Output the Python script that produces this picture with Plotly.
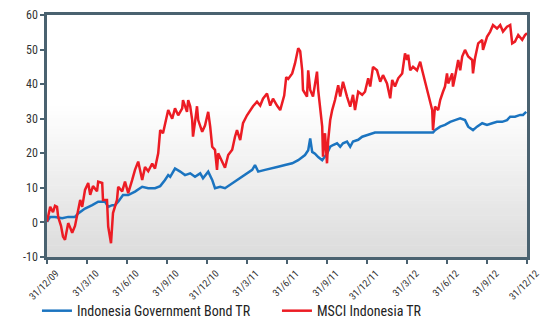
import plotly.graph_objects as go

# x positions in quarters since 31/12/09
tick_labels = ["31/12/09", "31/3/10", "31/6/10", "31/9/10", "31/12/10", "31/3/11", "31/6/11",
               "31/9/11", "31/12/11", "31/3/12", "31/6/12", "31/9/12", "31/12/12"]

bond_x = [0.00, 0.08, 0.20, 0.38, 0.53, 0.70, 0.78, 0.95, 1.13, 1.28, 1.45, 1.53, 1.63, 1.70, 1.78,
          1.90, 2.03, 2.20, 2.38, 2.53, 2.70, 2.83, 2.95, 3.03, 3.08, 3.20, 3.33, 3.45, 3.58, 3.70,
          3.83, 3.90, 4.03, 4.13, 4.20, 4.33, 4.45, 4.63, 4.78, 4.95, 5.13, 5.20, 5.28, 5.45, 5.63,
          5.78, 5.95, 6.13, 6.28, 6.45, 6.53, 6.58, 6.63, 6.70, 6.78, 6.88, 7.00, 7.08, 7.15, 7.25,
          7.33, 7.40, 7.50, 7.58, 7.65, 7.78, 7.88, 8.00, 8.13, 8.20, 9.00, 9.65, 9.70, 9.83, 9.95,
          10.08, 10.20, 10.33, 10.45, 10.53, 10.65, 10.75, 10.88, 11.00, 11.13, 11.25, 11.38, 11.50,
          11.58, 11.70, 11.83, 11.90, 11.98]
bond_y = [0.2, 1.6, 1.6, 1.2, 1.6, 1.6, 2.6, 4.0, 5.0, 6.0, 6.0, 4.5, 5.0, 5.0, 6.0,
          7.9, 7.9, 8.9, 10.3, 9.9, 9.9, 10.5, 12.3, 13.7, 13.2, 15.6, 14.7, 13.7, 14.2, 13.2,
          14.2, 12.8, 14.7, 12.3, 9.9, 10.3, 9.9, 11.3, 12.3, 13.7, 15.2, 16.6, 14.7, 15.2, 15.6,
          16.1, 16.6, 17.1, 18.0, 19.5, 20.9, 24.3, 20.4, 19.9, 18.9, 18.0, 19.9, 21.9, 22.4, 22.9,
          21.9, 22.9, 23.4, 21.9, 23.4, 23.9, 24.8, 25.3, 25.8, 26.0, 26.0, 26.0, 26.7, 27.7, 28.2,
          29.1, 29.6, 30.1, 29.6, 27.7, 26.7, 27.7, 28.7, 28.2, 28.7, 29.1, 29.1, 29.6,
          30.6, 30.6, 31.1, 31.1, 32.0]

msci_x = [0.00, 0.08, 0.15, 0.20, 0.25, 0.28, 0.35, 0.40, 0.45, 0.48, 0.53, 0.58, 0.63, 0.70, 0.75,
          0.83, 0.88, 0.95, 1.03, 1.08, 1.15, 1.25, 1.28, 1.38, 1.40, 1.50, 1.53, 1.58, 1.60, 1.65,
          1.70, 1.75, 1.78, 1.88, 1.95, 2.03, 2.13, 2.20, 2.28, 2.38, 2.45, 2.53, 2.63, 2.70, 2.78,
          2.83, 2.90, 2.95, 3.03, 3.13, 3.20, 3.28, 3.38, 3.40, 3.50, 3.53, 3.58, 3.63, 3.65, 3.70,
          3.75, 3.78, 3.88, 3.95, 4.03, 4.08, 4.13, 4.20, 4.25, 4.28, 4.38, 4.45, 4.53, 4.63, 4.70,
          4.75, 4.83, 4.90, 5.00, 5.08, 5.15, 5.25, 5.33, 5.40, 5.50, 5.58, 5.65, 5.75, 5.83, 5.93,
          5.98, 6.03, 6.13, 6.20, 6.28, 6.33, 6.38, 6.40, 6.50, 6.53, 6.58, 6.65, 6.75, 6.78, 6.83,
          6.88, 6.90, 6.95, 7.00, 7.03, 7.08, 7.13, 7.20, 7.28, 7.33, 7.40, 7.50, 7.58, 7.65, 7.70,
          7.78, 7.88, 7.95, 8.03, 8.08, 8.15, 8.25, 8.33, 8.40, 8.50, 8.58, 8.63, 8.70, 8.78, 8.88,
          8.95, 9.00, 9.03, 9.08, 9.15, 9.25, 9.33, 9.38, 9.45, 9.53, 9.58, 9.63, 9.65, 9.70, 9.78,
          9.83, 9.90, 9.95, 10.00, 10.03, 10.13, 10.15, 10.20, 10.28, 10.33, 10.38, 10.45, 10.53,
          10.63, 10.65, 10.70, 10.78, 10.88, 10.90, 11.00, 11.08, 11.15, 11.25, 11.33, 11.40, 11.50,
          11.58, 11.63, 11.70, 11.78, 11.88, 11.95, 12.00]
msci_y = [0.2, 4.5, 3.0, 4.8, 4.5, 1.6, -1.0, -4.1, -5.0, -3.0, -0.2, -1.5, -3.0, -1.0, 1.6,
          6.5, 4.5, 9.4, 11.4, 8.0, 10.5, 9.0, 11.8, 11.4, 6.5, 6.5, -1.2, -4.0, -6.0, 2.7,
          4.5, 6.5, 10.3, 9.0, 11.8, 8.5, 12.3, 15.2, 17.6, 12.3, 16.0, 14.8, 17.0, 15.6, 20.0,
          26.7, 25.8, 28.7, 32.5, 30.0, 33.0, 31.0, 33.0, 35.4, 32.0, 35.4, 33.6, 29.6, 24.8, 29.0,
          33.6, 29.6, 26.2, 28.0, 32.0, 27.7, 21.9, 21.0, 15.2, 20.0, 17.2, 15.8, 19.5, 21.0, 24.8,
          26.7, 23.8, 28.7, 31.0, 32.5, 33.6, 34.9, 33.8, 35.8, 37.3, 33.8, 35.8, 33.8, 32.5, 36.7,
          42.0, 41.5, 43.1, 46.0, 50.4, 49.5, 44.0, 38.3, 36.4, 44.0, 38.3, 36.4, 43.6, 38.3, 32.5,
          27.7, 19.0, 25.8, 17.1, 23.8, 29.6, 32.5, 35.4, 39.7, 36.4, 40.7, 36.4, 33.5, 36.9, 32.5,
          37.8, 36.9, 37.8, 41.7, 39.3, 45.0, 44.0, 40.7, 42.6, 40.2, 35.9, 41.2, 39.3, 41.7, 43.1,
          48.9, 47.0, 48.5, 44.0, 45.0, 44.0, 46.5, 44.0, 40.7, 37.3, 35.4, 32.5, 26.7, 33.5, 32.5,
          35.4, 37.8, 39.3, 43.1, 40.2, 43.1, 39.3, 42.1, 47.0, 44.0, 48.0, 49.9, 48.0,
          47.0, 43.1, 47.5, 51.8, 52.8, 49.9, 53.7, 55.2, 57.1, 56.1, 57.1, 55.2, 56.6,
          57.1, 51.8, 52.3, 54.2, 52.8, 54.2, 54.7]

y_ticks = [-10, 0, 10, 20, 30, 40, 50, 60]
y_tick_labels = ["-10", "0", "10", "20", "30", "40", "50", "60"]

FONT = "Roboto Condensed, Roboto, sans-serif"
AXIS = "#4a6270"

fig = go.Figure()
fig.add_trace(go.Scatter(x=bond_x, y=bond_y, mode="lines", name="Indonesia Government Bond TR",
                         line=dict(color="#1b74c0", width=2.5)))
fig.add_trace(go.Scatter(x=msci_x, y=msci_y, mode="lines", name="MSCI Indonesia TR",
                         line=dict(color="#ec1c24", width=2.5)))

# vertical gradient background (white top -> light grey bottom)
n = 40
top = 0.62
shapes = []
for i in range(n):
    y0 = top * i / n
    y1 = top * (i + 1) / n
    t = (i + 0.5) / n
    c = int(220 + (255 - 220) * t)
    shapes.append(dict(type="rect", xref="paper", yref="paper", x0=0, x1=1, y0=y0, y1=y1 + 0.002,
                       fillcolor=f"rgb({c},{c},{c})", line=dict(width=0), layer="below"))

fig.update_layout(
    width=560, height=332,
    margin=dict(l=47, r=33, t=15, b=75, autoexpand=False),
    paper_bgcolor="white", plot_bgcolor="white",
    shapes=shapes,
    font=dict(family=FONT, color="#333333"),
    showlegend=True,
    legend=dict(orientation="h", xref="container", yref="container", x=0.066, xanchor="left",
                y=0.063, yanchor="middle",
                font=dict(size=14, color="#222222", family=FONT), bgcolor="rgba(0,0,0,0)",
                entrywidth=195, entrywidthmode="pixels"),
    xaxis=dict(range=[0, 12], tickvals=list(range(13)), ticktext=tick_labels, tickangle=-45,
               showgrid=False, zeroline=False, showline=True, linecolor=AXIS, linewidth=2.5,
               mirror=True, ticks="outside", ticklen=4, tickwidth=1.5, tickcolor=AXIS,
               ticklabelshift=9, ticklabelstandoff=0, automargin=False,
               tickfont=dict(size=10, family=FONT, color="#333333")),
    yaxis=dict(range=[-10, 60], tickvals=y_ticks, ticktext=y_tick_labels,
               showgrid=False, zeroline=False, showline=True, linecolor=AXIS, linewidth=2.5,
               mirror=True, ticks="outside", ticklen=4, tickwidth=1.5, tickcolor=AXIS,
               automargin=False,
               tickfont=dict(size=12, family=FONT, color="#333333")),
)

fig.write_html("out.html")
